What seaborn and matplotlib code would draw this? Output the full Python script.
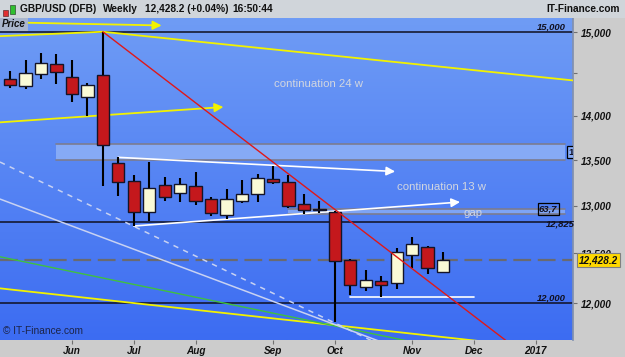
import numpy as np
import pandas as pd
import matplotlib
matplotlib.use("Agg")
import matplotlib.pyplot as plt
import seaborn as sns
from matplotlib.patches import Rectangle
from matplotlib.colors import LinearSegmentedColormap
from matplotlib.ticker import FixedLocator, FixedFormatter, NullFormatter

# ---------------- data ----------------
start_week = "2016-05-09"
opens  = [14428, 14345, 14488, 14611, 14452, 14222, 14480, 13464, 13271, 12931,
          13225, 13135, 13214, 13070, 12899, 13055, 13127, 13290, 13258, 13016,
          12965, 12931, 12433, 12156, 12219, 12196, 12481, 12570, 12314]
highs  = [14527, 14660, 14741, 14729, 14660, 14384, 15005, 13530, 13334, 13474,
          13315, 13298, 13365, 13098, 13181, 13280, 13346, 13433, 13334, 13124,
          13055, 12947, 12443, 12331, 12273, 12560, 12674, 12576, 12512]
lows   = [14328, 14316, 14428, 14375, 14164, 13998, 13217, 13109, 12786, 12838,
          13055, 13043, 13008, 12895, 12856, 13026, 13043, 13233, 12977, 12913,
          12920, 11813, 12079, 12119, 12062, 12136, 12348, 12290, 12304]
closes = [14357, 14500, 14619, 14518, 14255, 14357, 13667, 13261, 12937, 13189,
          13098, 13233, 13055, 12920, 13070, 13127, 13298, 13261, 12998, 12955,
          12960, 12425, 12176, 12229, 12176, 12518, 12600, 12348, 12428.2]
last_price = 12428.2
level_lines = [15000, 12825, 12000]
level_labels = ["15,000", "12,825", "12,000"]
ytick_values = [12000, 12500, 13000, 13500, 14000, 15000]
ytick_labels = ["12,000", "12,500", "13,000", "13,500", "14,000", "15,000"]
zone_13w = [13500, 13676]
zone_gap = [12915, 12963.7]
# trend lines: (week index pairs, price pairs)
yellow_lines = [([-0.65, 6], [14951, 15005]), ([6, 37], [15005, 14404]),
                ([-0.65, 31], [12146, 11619])]
yellow_arrows = [([1.1, 9.8], [15117, 15083]), ([-0.65, 13.8], [13926, 14103])]
white_arrows = [([8, 29.1], [12786, 13041]), ([7, 24.9], [13530, 13373])]
green_line = ([-0.65, 26], [12466, 11622])
light_line = ([-0.65, 26], [13073, 11511])
light_dashed = ([-0.65, 25], [13478, 11519])
red_line = ([6, 34], [15005, 11417])
support_line = ([22, 30], [12062, 12062])

W, H = 625, 357
sns.set_theme(style="white")
plt.rcParams["font.family"] = ["Liberation Sans", "DejaVu Sans"]

fig = plt.figure(figsize=(W / 100, H / 100), dpi=100, facecolor="#cccccc")


def fx(x):
    return x / W


def fy(y):
    return 1 - y / H


# header
fig.add_artist(Rectangle((0, fy(18)), 1, 18 / H, transform=fig.transFigure,
                         facecolor="#d0d5da", edgecolor="none"))
fig.add_artist(Rectangle((fx(3), fy(16)), 5 / W, 6 / H, transform=fig.transFigure,
                         facecolor="#e03030", edgecolor="#603030", lw=0.5))
fig.add_artist(Rectangle((fx(10), fy(14)), 5 / W, 9 / H, transform=fig.transFigure,
                         facecolor="#30c030", edgecolor="#305030", lw=0.5))
hdr = dict(fontsize=7.3, fontweight="bold", color="#101010", va="center")
fig.text(fx(20), fy(8.5), "GBP/USD (DFB)", **hdr)
fig.text(fx(103), fy(8.5), "Weekly", **hdr)
fig.text(fx(145), fy(8.5), "12,428.2 (+0.04%)", **hdr)
fig.text(fx(232), fy(8.5), "16:50:44", **hdr)
fig.text(fx(620), fy(8.5), "IT-Finance.com", ha="right", **hdr)

ax = fig.add_axes([0, fy(340), 573 / W, (340 - 18) / H])
ax.set_yscale("log")

# gradient background
cmap = LinearSegmentedColormap.from_list("bg", ["#3c6cf2", "#6f9cf5"])
grad = np.linspace(0, 1, 256).reshape(-1, 1)
ax.imshow(grad, extent=[0, 1, 0, 1], transform=ax.transAxes, aspect="auto",
          cmap=cmap, origin="lower", zorder=0)

weeks = pd.date_range(start_week, periods=len(opens), freq="7D")
idx = np.arange(len(opens))
df = pd.DataFrame({"idx": idx, "open": opens, "high": highs, "low": lows, "close": closes})

x0, x1 = -0.65, 36.4

# zones
for (lo, hi), xs, fc in [(zone_13w, 3.0, "#86aaf6"), (zone_gap, 18.0, "#7ea4f5")]:
    ax.add_patch(Rectangle((xs, lo), 35.9 - xs, hi - lo, facecolor=fc,
                           edgecolor="none", zorder=1))
    ax.plot([xs, 35.9], [hi, hi], color="#7c7c90", lw=1.2, zorder=1.1)
    ax.plot([xs, 35.9], [lo, lo], color="#7c7c90", lw=1.2, zorder=1.1)

# level lines
for lv, lab in zip(level_lines, level_labels):
    ax.axhline(lv, color="#101020", lw=1.1, zorder=2)
ax.axhline(last_price, color="#6a6a70", lw=1.6, dashes=(8, 3), zorder=2)

# trend lines
for xs, ys in yellow_lines:
    sns.lineplot(x=xs, y=ys, ax=ax, color="#f2f200", lw=1.3, zorder=3)
sns.lineplot(x=green_line[0], y=green_line[1], ax=ax, color="#40c040", lw=1.0, zorder=3)
sns.lineplot(x=light_line[0], y=light_line[1], ax=ax, color="#c8d2f2", lw=1.1, zorder=3)
ax.plot(light_dashed[0], light_dashed[1], color="#c8d2f2", lw=1.1, dashes=(3.5, 3.5), zorder=3)
sns.lineplot(x=red_line[0], y=red_line[1], ax=ax, color="#e01818", lw=1.0, zorder=6)
sns.lineplot(x=support_line[0], y=support_line[1], ax=ax, color="#ffffff", lw=1.2, zorder=3)
for xs, ys in yellow_arrows:
    ax.annotate("", xy=(xs[1], ys[1]), xytext=(xs[0], ys[0]),
                arrowprops=dict(arrowstyle="-|>", color="#f2f200", lw=1.3,
                                mutation_scale=13, shrinkA=0, shrinkB=0), zorder=3)
for xs, ys in white_arrows:
    ax.annotate("", xy=(xs[1], ys[1]), xytext=(xs[0], ys[0]),
                arrowprops=dict(arrowstyle="-|>", color="#ffffff", lw=1.2,
                                mutation_scale=13, shrinkA=0, shrinkB=0), zorder=3)

# candles
for _, r in df.iterrows():
    up = r["close"] >= r["open"]
    ax.vlines(r["idx"], r["low"], r["high"], color="#000000", lw=1.5, zorder=4)
    lo, hi = min(r["open"], r["close"]), max(r["open"], r["close"])
    if hi - lo < 8:
        hi, lo = hi + 6, lo - 6
    ax.bar(r["idx"], hi - lo, bottom=lo, width=0.8,
           color="#fafad6" if up else "#c4181c", edgecolor="#141428", lw=1.0, zorder=5)

# texts
lbl = dict(color="#d2d6e0", fontsize=8.2, va="center")
ax.text(17.07, 14372, "continuation 24 w", **lbl)
ax.text(25.0, 13203, "continuation 13 w", **lbl)
ax.text(29.3, 12923, "gap", **lbl)
lvl = dict(fontsize=6.8, fontweight="bold", fontstyle="italic", color="#101020",
           ha="right", va="bottom", zorder=7)
ax.text(35.95, 15008, "15,000", **lvl)
ax.text(35.95, 12006, "12,000", **lvl)
ax.text(36.5, 12760, "12,825", **lvl)
ax.text(34.2, 12963.7, "63,7", fontsize=6.8, fontweight="bold", fontstyle="italic",
        color="#101020", va="center", zorder=7,
        bbox=dict(boxstyle="square,pad=0.15", fc="none", ec="#000000", lw=0.9))
ax.text(36.1, 13590, "13,676", fontsize=6.8, fontweight="bold", color="#101020",
        va="center", zorder=7, clip_on=True,
        bbox=dict(boxstyle="square,pad=0.15", fc="#86aaf6", ec="#000000", lw=0.9))
ax.text(0.005, 0.012, "© IT-Finance.com", transform=ax.transAxes, fontsize=7.3,
        color="#1c2448", va="bottom", zorder=7)
ax.text(0.004, 0.997, "Price", transform=ax.transAxes, fontsize=7, fontweight="bold",
        fontstyle="italic", color="#101010", va="top", zorder=8,
        bbox=dict(boxstyle="square,pad=0.2", fc="#aab6cc", ec="none"))

# axes
ax.set_xlim(x0, x1)
ax.set_ylim(11640, 15176)
ax.yaxis.tick_right()
ax.yaxis.set_major_locator(FixedLocator(ytick_values))
ax.yaxis.set_major_formatter(FixedFormatter(ytick_labels))
ax.yaxis.set_minor_locator(FixedLocator([14500]))
ax.yaxis.set_minor_formatter(NullFormatter())
month_pos, month_lab = [], []
for i in range(1, 37):
    d = pd.Timestamp(start_week) + pd.Timedelta(weeks=i)
    prev = d - pd.Timedelta(weeks=1)
    if d.month != prev.month:
        month_pos.append(i)
        month_lab.append(str(d.year) if d.month == 1 else d.strftime("%b"))
ax.xaxis.set_major_locator(FixedLocator(month_pos))
ax.xaxis.set_major_formatter(FixedFormatter(month_lab))
ax.tick_params(axis="y", which="both", right=True, length=3, width=0.8, color="#707070",
               pad=3, labelsize=7.2, labelcolor="#101010")
ax.tick_params(axis="x", bottom=True, length=3, width=0.8, color="#707070", pad=1.5,
               labelsize=7.2, labelcolor="#101010")
for t in ax.get_yticklabels() + ax.get_xticklabels():
    t.set_fontweight("bold")
    t.set_fontstyle("italic")
for s in ax.spines.values():
    s.set_visible(False)
ax.spines["right"].set_visible(True)
ax.spines["right"].set_color("#8090b0")
ax.grid(False)

ax.annotate("12,428.2", xy=(1.01, last_price), xycoords=("axes fraction", "data"),
            fontsize=7.2, fontweight="bold", fontstyle="italic", color="#101010",
            va="center", ha="left", annotation_clip=False, zorder=9,
            bbox=dict(boxstyle="square,pad=0.2", fc="#ffd800", ec="#808080", lw=0.8))

fig.savefig("out.png", dpi=100, facecolor=fig.get_facecolor())
